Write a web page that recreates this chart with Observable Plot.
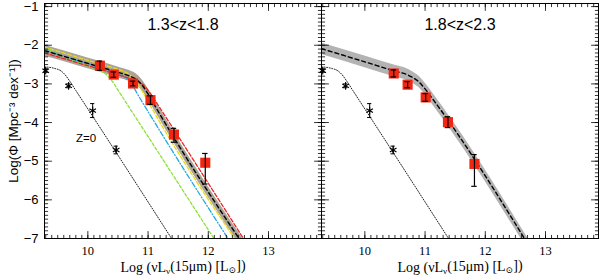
<!DOCTYPE html>
<html>
<head>
<meta charset="utf-8">
<script src="https://cdn.jsdelivr.net/npm/d3@7"></script>
<script src="https://cdn.jsdelivr.net/npm/@observablehq/plot@0.6"></script>
<style>
  html, body { margin: 0; padding: 0; background: #fff; }
  #chart { width: 600px; height: 277px; }
</style>
</head>
<body>
<div id="chart"></div>
<script>
// ---------------- data ----------------
const panels = ["1.3<z<1.8", "1.8<z<2.3"];

// red squares, left panel (1.3<z<1.8)
const leftX     = [10.20, 10.43, 10.75, 11.04, 11.43, 11.95];
const leftY     = [-2.53, -2.76, -2.99, -3.42, -4.31, -5.04];
const leftErrLo = [0.12, 0.07, 0.06, 0.11, 0.20, 0.55];
const leftErrHi = [0.12, 0.07, 0.06, 0.11, 0.16, 0.24];

// red squares, right panel (1.8<z<2.3)
const rightX     = [10.48, 10.71, 11.01, 11.38, 11.82];
const rightY     = [-2.73, -3.02, -3.35, -3.99, -5.07];
const rightErrLo = [0.09, 0.08, 0.10, 0.14, 0.58];
const rightErrHi = [0.09, 0.08, 0.10, 0.14, 0.24];

// z = 0 reference points (asterisks)
const z0X   = [9.30, 9.68, 10.08, 10.47];
const z0Y   = [-2.66, -3.05, -3.69, -4.71];
const z0Err = [0.03, 0.05, 0.18, 0.10];

// z = 0 dotted model curve
const z0CurveX = [9.28, 9.45, 9.55, 9.62, 9.70, 9.80, 10.21, 11.39];
const z0CurveY = [-2.56, -2.60, -2.66, -2.76, -2.93, -3.17, -4.15, -7.00];

// left panel model curves
const leftBlackX  = [9.28, 10.0, 10.5, 10.7, 10.8, 10.9, 11.0, 11.1, 12.7];
const leftBlackY  = [-2.14, -2.47, -2.70, -2.80, -2.88, -3.03, -3.26, -3.53, -7.44];
const leftRedX    = [9.28, 10.0, 10.5, 10.7, 10.85, 10.95, 11.05, 11.15, 12.75];
const leftRedY    = [-2.20, -2.53, -2.76, -2.86, -2.95, -3.07, -3.27, -3.51, -7.41];
const leftYellowX = [9.28, 10.0, 10.45, 10.6, 10.7, 10.8, 10.9, 11.0, 12.6];
const leftYellowY = [-2.05, -2.39, -2.60, -2.68, -2.77, -2.94, -3.18, -3.46, -7.37];
const leftGreenX  = [9.28, 9.8, 10.1, 10.2, 10.3, 10.4, 10.5, 12.25];
const leftGreenY  = [-2.08, -2.41, -2.60, -2.66, -2.75, -2.92, -3.16, -7.38];
const leftCyanX   = [9.28, 10.0, 10.4, 10.55, 10.65, 10.75, 10.85, 12.5];
const leftCyanY   = [-2.12, -2.48, -2.68, -2.78, -2.88, -3.07, -3.33, -7.42];

// right panel model curve
const rightBlackX = [9.28, 10.0, 10.5, 10.7, 10.8, 10.9, 11.0, 11.15, 12.8];
const rightBlackY = [-2.09, -2.43, -2.67, -2.76, -2.84, -2.95, -3.13, -3.44, -7.38];

// axis ticks
const xMajor = [10, 11, 12, 13];
const yMajor = [-7, -6, -5, -4, -3, -2, -1];
const zLabel = [{text: "Z=0", x: 9.97, y: -4.42}];
const xLabel = "Log (\u03bdL\u03bd(15\u03bcm) [L\u2299])";
const yLabel = "Log(\u03a6 [Mpc\u207b\u00b3 dex\u207b\u00b9])";

// ---------------- tables ----------------
const pts = (xs, ys, panel, lo, hi) => xs.map((x, i) => ({panel, x, y: ys[i], lo: ys[i] - lo[i], hi: ys[i] + hi[i]}));
const curve = (xs, ys, panel) => xs.map((x, i) => ({panel, x, y: ys[i]}));

const squares = [...pts(leftX, leftY, panels[0], leftErrLo, leftErrHi),
                 ...pts(rightX, rightY, panels[1], rightErrLo, rightErrHi)];
const z0pts = panels.flatMap(p => pts(z0X, z0Y, p, z0Err, z0Err));
const z0curve = panels.flatMap(p => curve(z0CurveX, z0CurveY, p));

const lBlack = curve(leftBlackX, leftBlackY, panels[0]);
const rBlack = curve(rightBlackX, rightBlackY, panels[1]);

const xMinor = d3.range(93, 139).map(d => d / 10);
const yMinor = d3.range(-70, -9).map(d => d / 10);

const tickShape = {draw(ctx, l) { ctx.moveTo(0, 0); ctx.lineTo(0, -l); }};
function edgeTicks(xs, ys, len) {
  const o = {anchor: "start", length: len, shape: tickShape, stroke: "black", strokeWidth: 0.8};
  return [
    Plot.vector(xs, {...o, x: d => d, frameAnchor: "bottom", rotate: 0}),
    Plot.vector(xs, {...o, x: d => d, frameAnchor: "top", rotate: 180}),
    Plot.vector(ys, {...o, y: d => d, frameAnchor: "left", rotate: 90}),
    Plot.vector(ys, {...o, y: d => d, frameAnchor: "right", rotate: -90})
  ];
}

const line = (data, stroke, dash, w = 1.3) =>
  Plot.line(data, {fx: "panel", x: "x", y: "y", stroke, strokeDasharray: dash, strokeWidth: w, curve: "monotone-x", clip: true});

const intFmt = d3.format("d");

const chart = Plot.plot({
  width: 600,
  height: 277,
  marginTop: 3,
  marginBottom: 39,
  marginLeft: 43,
  marginRight: 2,
  style: {fontFamily: "Liberation Sans, sans-serif", background: "white"},
  fx: {domain: panels, padding: 0, axis: null},
  x: {domain: [9.28, 13.88]},
  y: {domain: [-7, -0.92]},
  marks: [
    // bands
    Plot.areaY(lBlack, {fx: "panel", x: "x", y1: d => d.y - 0.14, y2: d => d.y + 0.14, fill: "#aaa397", curve: "monotone-x", clip: true}),
    Plot.areaY(rBlack, {fx: "panel", x: "x", y1: d => d.y - 0.15, y2: d => d.y + 0.15, fill: "#b3b3b3", curve: "monotone-x", clip: true}),
    // colored models
    line(curve(leftGreenX, leftGreenY, panels[0]), "#8fe03a", "3,2"),
    line(curve(leftCyanX, leftCyanY, panels[0]), "#26a9e0", "5,2,1,2"),
    line(curve(leftYellowX, leftYellowY, panels[0]), "#e8d81a", "4,2"),
    line(curve(leftRedX, leftRedY, panels[0]), "#e8262a", "4,2"),
    line(lBlack, "black", "4,3", 1.4),
    line(rBlack, "black", "4,3", 1.4),
    // z=0 curve
    line(z0curve, "black", "1,1.6", 0.9),
    // squares
    Plot.dot(squares, {fx: "panel", x: "x", y: "y", symbol: "square", r: 5.7, fill: "#f02512"}),
    Plot.ruleX(squares, {fx: "panel", x: "x", y1: "lo", y2: "hi", stroke: "black", strokeWidth: 1.2}),
    Plot.ruleY(squares, {fx: "panel", y: "lo", x1: d => d.x - 0.045, x2: d => d.x + 0.045, stroke: "black", strokeWidth: 1.2}),
    Plot.ruleY(squares, {fx: "panel", y: "hi", x1: d => d.x - 0.045, x2: d => d.x + 0.045, stroke: "black", strokeWidth: 1.2}),
    // asterisks
    Plot.ruleX(z0pts, {fx: "panel", x: "x", y1: "lo", y2: "hi", stroke: "black", strokeWidth: 1}),
    Plot.ruleY(z0pts, {fx: "panel", y: "lo", x1: d => d.x - 0.035, x2: d => d.x + 0.035, stroke: "black", strokeWidth: 1}),
    Plot.ruleY(z0pts, {fx: "panel", y: "hi", x1: d => d.x - 0.035, x2: d => d.x + 0.035, stroke: "black", strokeWidth: 1}),
    Plot.dot(z0pts, {fx: "panel", x: "x", y: "y", symbol: "asterisk", r: 3.6, stroke: "black", strokeWidth: 1.1}),
    Plot.text(zLabel, {fx: () => panels[0], x: "x", y: "y", text: "text", fontSize: 11.5}),
    // frame and ticks
    Plot.frame({stroke: "black", strokeWidth: 1}),
    ...edgeTicks(xMinor, yMinor, 3.2),
    ...edgeTicks(xMajor, yMajor, 7),
    Plot.axisX({ticks: xMajor, tickFormat: intFmt, tickSize: 0, tickPadding: 8, fontSize: 12.5, fontFamily: "Liberation Serif, serif", label: null}),
    Plot.axisY({ticks: yMajor, tickFormat: intFmt, tickSize: 0, tickPadding: 6, fontSize: 13, label: null}),
    // titles and labels
    Plot.text(panels, {fx: d => d, text: d => d, frameAnchor: "top", lineAnchor: "middle", dy: 21, fontSize: 16}),
    Plot.text(panels, {fx: d => d, text: () => xLabel, frameAnchor: "bottom", lineAnchor: "middle", textAnchor: "middle", dy: 29, fontSize: 14, fontFamily: "Liberation Serif, DejaVu Serif, serif"}),
    Plot.text([panels[0]], {fx: d => d, text: () => yLabel, frameAnchor: "left", textAnchor: "middle", lineAnchor: "middle", dx: -31, rotate: -90, fontSize: 13.5})
  ]
});

document.getElementById("chart").appendChild(chart);

// subscripts in the x label
d3.select(chart).selectAll("text").filter(function () { return this.textContent === xLabel; }).each(function () {
  const t = d3.select(this);
  t.text(null);
  t.append("tspan").text("Log (\u03bdL");
  t.append("tspan").attr("dy", "0.22em").attr("font-size", "65%").text("\u03bd");
  t.append("tspan").attr("dy", "-0.22em").text("(15\u03bcm) [L");
  t.append("tspan").attr("dy", "0.22em").attr("font-size", "65%").text("\u2299");
  t.append("tspan").attr("dy", "-0.22em").text("])");
});
</script>
</body>
</html>
